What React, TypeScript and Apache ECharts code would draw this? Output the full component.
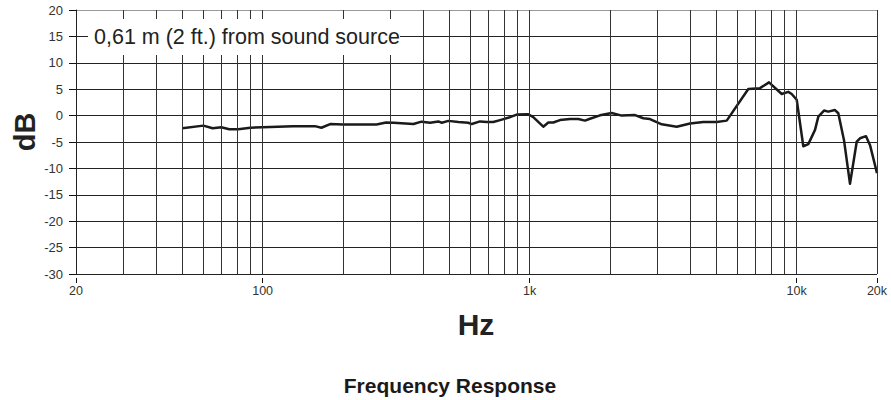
import React, { useEffect, useRef } from 'react';
import * as echarts from 'echarts';

const freqs = [50, 60, 65, 70, 75, 81, 90, 100, 130, 157, 166, 179, 200, 267, 290, 309, 367, 394, 424, 455, 469, 496, 541, 589, 607, 652, 691, 731, 775, 844, 895, 989, 1032, 1125, 1175, 1226, 1299, 1417, 1522, 1612, 1683, 1835, 2029, 2212, 2482, 2666, 2823, 3124, 3555, 3988, 4472, 5018, 5473, 6592, 7294, 7880, 8794, 9308, 9583, 10008, 10593, 11060, 11720, 12058, 12664, 13138, 13920, 14324, 15046, 15846, 16790, 17274, 18192, 18834, 20000];
const levels = [-2.4, -1.9, -2.4, -2.2, -2.6, -2.6, -2.3, -2.2, -2.0, -2.0, -2.3, -1.6, -1.7, -1.7, -1.3, -1.35, -1.6, -1.15, -1.35, -1.1, -1.35, -1.0, -1.2, -1.35, -1.6, -1.1, -1.2, -1.2, -0.85, -0.3, 0.2, 0.25, -0.3, -2.1, -1.3, -1.3, -0.85, -0.65, -0.65, -0.95, -0.6, 0.05, 0.5, 0.0, 0.1, -0.5, -0.65, -1.65, -2.1, -1.5, -1.2, -1.2, -0.95, 5.05, 5.2, 6.3, 4.1, 4.5, 4.1, 3.0, -5.8, -5.4, -2.7, -0.2, 0.95, 0.75, 1.05, 0.45, -4.65, -12.9, -4.95, -4.3, -3.9, -5.6, -10.9];

const gridFreqs = [30, 40, 50, 60, 70, 80, 90, 100, 200, 300, 400, 500, 600, 700, 800, 900, 1000, 2000, 3000, 4000, 5000, 6000, 7000, 8000, 9000, 10000, 20000];
const xTickValues = [20, 100, 1000, 10000, 20000];
const xTickLabels = ['20', '100', '1k', '10k', '20k'];
const yMin = -30;
const yMax = 20;
const yStep = 5;

const annotation = '0,61 m (2 ft.) from sound source';
const yTitle = 'dB';
const xTitle = 'Hz';
const chartTitle = 'Frequency Response';

const FONT = '"Liberation Sans", Arial, Helvetica, sans-serif';

export default function App() {
  const ref = useRef<HTMLDivElement>(null);
  useEffect(() => {
    if (!ref.current) return;
    const chart = echarts.init(ref.current, undefined, { renderer: 'svg' });
    const nLines = (yMax - yMin) / yStep + 1;
    const splitColors = Array.from({ length: nLines }, (_, i) => (i === nLines - 1 ? '#999' : '#222'));
    chart.setOption({
      animation: false,
      grid: { left: 76, right: 14, top: 10, bottom: 126, containLabel: false },
      xAxis: [
        {
          type: 'log',
          logBase: 10,
          min: 20,
          max: 20000,
          axisLine: { show: false },
          splitLine: { show: false },
          minorTick: { show: false },
          axisTick: { show: false },
          axisLabel: { show: false },
        },
        {
          type: 'log',
          logBase: 10,
          min: 20,
          max: 20000,
          position: 'bottom',
          offset: 4,
          axisLine: { show: true, lineStyle: { color: 'rgba(0,0,0,0)' } },
          splitLine: { show: false },
          minorTick: { show: false },
          axisTick: {
            show: true,
            customValues: xTickValues,
            length: 5,
            lineStyle: { color: '#111', width: 1 },
          },
          axisLabel: {
            show: true,
            customValues: xTickValues,
            margin: 6,
            fontSize: 12.5,
            fontFamily: FONT,
            color: '#333',
            formatter: (v: number) => {
              const i = xTickValues.findIndex((t) => Math.abs(t - v) < 1e-6 * t);
              return i >= 0 ? xTickLabels[i] : '';
            },
          },
        },
      ],
      yAxis: {
        type: 'value',
        min: yMin,
        max: yMax,
        interval: yStep,
        axisLine: { show: true, lineStyle: { color: '#222', width: 1 } },
        axisTick: { show: true, inside: false, length: 7, lineStyle: { color: '#111', width: 1 } },
        axisLabel: { margin: 13, fontSize: 13, fontFamily: FONT, color: '#333' },
        splitLine: { show: true, lineStyle: { color: splitColors, width: 1 } },
      },
      series: [
        {
          name: 'grid',
          type: 'line',
          xAxisIndex: 0,
          data: [],
          z: 1,
          silent: true,
          markLine: {
            silent: true,
            symbol: ['none', 'none'],
            label: { show: false },
            lineStyle: { color: '#333', width: 1, type: 'solid' },
            data: gridFreqs.map((f) => ({ xAxis: f })),
          },
        },
        {
          name: 'response',
          type: 'line',
          xAxisIndex: 0,
          z: 3,
          data: freqs.map((f, i) => [f, levels[i]]),
          showSymbol: false,
          symbol: 'none',
          lineStyle: { color: '#1a1a1a', width: 2.5, join: 'round' },
        },
      ],
      graphic: [
        {
          type: 'rect',
          z: 100,
          shape: { x: 88, y: 19, width: 312, height: 36 },
          style: { fill: '#fff' },
        },
        {
          type: 'text',
          z: 101,
          x: 94,
          y: 37,
          style: {
            text: annotation,
            fontSize: 21.5,
            fontFamily: FONT,
            fill: '#222',
            verticalAlign: 'middle',
            align: 'left',
          },
        },
        {
          type: 'text',
          z: 101,
          x: 25,
          y: 132,
          rotation: Math.PI / 2,
          style: {
            text: yTitle,
            fontSize: 29,
            fontWeight: 'bold',
            fontFamily: FONT,
            fill: '#222',
            align: 'center',
            verticalAlign: 'middle',
          },
        },
        {
          type: 'text',
          z: 101,
          x: 476,
          y: 324,
          style: {
            text: xTitle,
            fontSize: 30,
            fontWeight: 'bold',
            fontFamily: FONT,
            fill: '#222',
            align: 'center',
            verticalAlign: 'middle',
          },
        },
        {
          type: 'text',
          z: 101,
          x: 450,
          y: 385,
          style: {
            text: chartTitle,
            fontSize: 21,
            fontWeight: 'bold',
            fontFamily: FONT,
            fill: '#1a1a1a',
            align: 'center',
            verticalAlign: 'middle',
          },
        },
      ],
    });
    return () => chart.dispose();
  }, []);
  return <div ref={ref} style={{ position: 'fixed', left: 0, top: 0, width: 891, height: 400, background: '#fff' }} />;
}
